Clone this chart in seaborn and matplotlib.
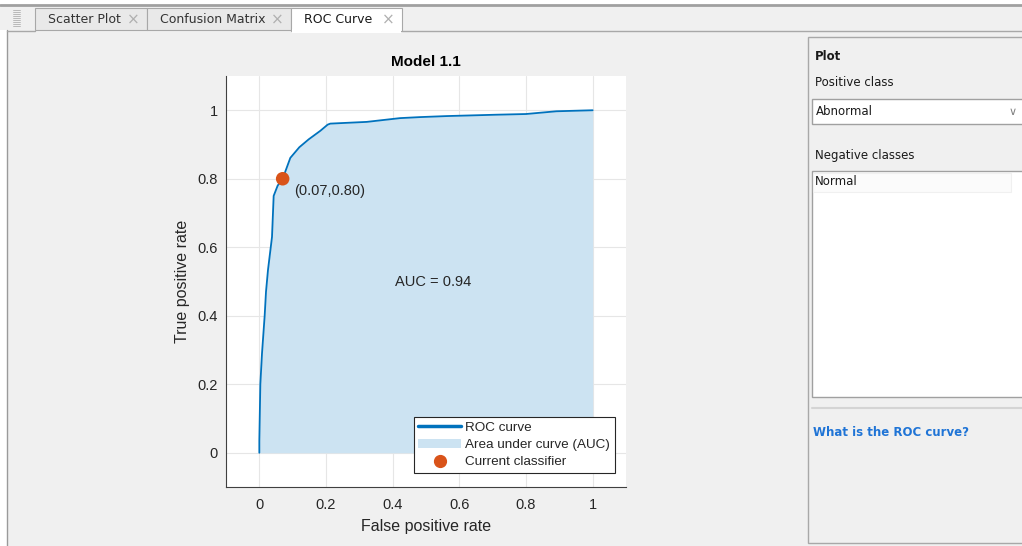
import numpy as np
import pandas as pd
import matplotlib
matplotlib.use("Agg")
import matplotlib.pyplot as plt
from matplotlib.patches import Rectangle, Patch
from matplotlib.lines import Line2D
import seaborn as sns

# ---------------- data ----------------
fpr = [0.0, 0.0, 0.003, 0.008, 0.016, 0.02, 0.026, 0.033, 0.038, 0.043, 0.055, 0.07,
       0.093, 0.12, 0.148, 0.183, 0.205, 0.213, 0.322, 0.422, 0.482, 0.562, 0.712,
       0.80, 0.891, 1.0]
tpr = [0.0, 0.035, 0.2, 0.29, 0.40, 0.47, 0.534, 0.59, 0.63, 0.75, 0.78, 0.80,
       0.861, 0.892, 0.915, 0.94, 0.958, 0.961, 0.966, 0.977, 0.980, 0.983, 0.987,
       0.989, 0.997, 1.0]
current_fpr = [0.07]
current_tpr = [0.80]
auc_value = 0.94
title = "Model 1.1"
tick_values = [0, 0.2, 0.4, 0.6, 0.8, 1]
tick_labels = ["0", "0.2", "0.4", "0.6", "0.8", "1"]
tab_names = ["Scatter Plot", "Confusion Matrix", "ROC Curve"]
positive_class = "Abnormal"
negative_classes = ["Normal"]

roc = pd.DataFrame({"fpr": fpr, "tpr": tpr})
cur = pd.DataFrame({"fpr": current_fpr, "tpr": current_tpr})

# ---------------- style ----------------
sns.set_style("white")
plt.rcParams["font.family"] = ["Liberation Sans", "DejaVu Sans"]

W, H = 1022, 546
fig = plt.figure(figsize=(W / 100, H / 100), dpi=100)
fig.patch.set_facecolor("#f0f0f0")

def fx(x):
    return x / W

def fy(y):
    return 1 - y / H

def rect(x0, y0, x1, y1, fc, ec="none", lw=1, z=0):
    fig.patches.append(Rectangle((fx(x0), fy(y1)), fx(x1) - fx(x0), fy(y0) - fy(y1),
                                 transform=fig.transFigure, facecolor=fc, edgecolor=ec,
                                 linewidth=lw, zorder=z))

def hline(x0, x1, y, color, lw=1):
    fig.add_artist(Line2D([fx(x0), fx(x1)], [fy(y), fy(y)], transform=fig.transFigure,
                          color=color, lw=lw))

def vline(x, y0, y1, color, lw=1):
    fig.add_artist(Line2D([fx(x), fx(x)], [fy(y0), fy(y1)], transform=fig.transFigure,
                          color=color, lw=lw))

def text(x, y, s, **kw):
    fig.text(fx(x), fy(y), s, transform=fig.transFigure, **kw)

UI = ["DejaVu Sans"]

# ---------------- UI chrome ----------------
rect(0, 0, W, 5, "#ffffff")
hline(0, W, 5, "#a0a0a0", lw=2)
rect(0, 30, 7, H, "#ffffff")
vline(7, 30, H, "#9a9a9a", lw=1)
hline(402, W, 31, "#a8a8a8", lw=1)
hline(7, 35, 31, "#a8a8a8", lw=1)
for gy in range(10, 28, 2):
    hline(13, 20, gy, "#b0b0b0", lw=0.6)
tabs = [(35, 147), (147, 291), (291, 402)]
for i, ((x0, x1), name) in enumerate(zip(tabs, tab_names)):
    selected = i == 2
    rect(x0, 8, x1, 31 if selected else 30, "#ffffff" if selected else "#e9e9e9",
         ec="#a8a8a8", lw=0.8, z=1)
    text(x0 + 13, 19.5, name, fontsize=9, color="#1a1a1a" if selected else "#333333",
         va="center", ha="left", family=UI, zorder=3)
    text(x1 - 14, 19.5, "\u00d7", fontsize=11, color="#b0b0b0", va="center",
         ha="center", family=UI, zorder=3)
rect(292, 29, 401, 33, "#ffffff", z=2)

# right panel
rect(808, 37, W + 2, 543, "#f0f0f0", ec="#a8a8a8", lw=1)
text(815, 57, "Plot", fontsize=8.5, fontweight="bold", va="center", color="#1a1a1a",
     family=UI)
text(815, 82, "Positive class", fontsize=8.5, va="center", color="#1a1a1a", family=UI)
rect(812, 99, W + 2, 124, "#ffffff", ec="#a0a0a0", lw=1)
text(816, 112, positive_class, fontsize=8.5, va="center", color="#1a1a1a", family=UI)
text(1013, 112, "\u2228", fontsize=8, va="center", ha="center", color="#808080",
     family=UI)
text(815, 155, "Negative classes", fontsize=8.5, va="center", color="#1a1a1a", family=UI)
rect(812, 171, W + 2, 397, "#ffffff", ec="#a0a0a0", lw=1)
rect(813, 173, 1011, 192, "#fbfbfb", ec="#f0f0f0", lw=0.8)
for k, nc in enumerate(negative_classes):
    text(815, 182 + 18 * k, nc, fontsize=8.5, va="center", color="#1a1a1a", family=UI)
hline(812, W, 408, "#d4d4d4", lw=1.5)
text(813, 433, "What is the ROC curve?", fontsize=8.5, fontweight="bold", va="center",
     color="#1f74d6", family=UI)

# ---------------- axes ----------------
ax = fig.add_axes([fx(226), fy(487), (626 - 226) / W, (487 - 76) / H])
ax.set_facecolor("#ffffff")
blue = "#0072BD"
orange = "#D95319"
fillc = "#cce3f2"

ax.fill_between(roc["fpr"], roc["tpr"], 0, color=fillc, linewidth=0, zorder=1)
sns.lineplot(data=roc, x="fpr", y="tpr", sort=False, estimator=None, color=blue,
             linewidth=1.3, ax=ax, zorder=3)
sns.scatterplot(data=cur, x="fpr", y="tpr", color=orange, s=95, edgecolor="none",
                ax=ax, zorder=4)

ax.set_xlim(-0.1, 1.1)
ax.set_ylim(-0.1, 1.1)
ax.set_xticks(tick_values)
ax.set_xticklabels(tick_labels)
ax.set_yticks(tick_values)
ax.set_yticklabels(tick_labels)
ax.grid(True, color="#e6e6e6", linewidth=0.8, zorder=0)
ax.set_axisbelow(True)
for s in ["top", "right"]:
    ax.spines[s].set_visible(False)
for s in ["left", "bottom"]:
    ax.spines[s].set_color("#404040")
    ax.spines[s].set_linewidth(0.8)
ax.tick_params(axis="both", direction="in", length=4, width=0.8, colors="#404040",
               labelsize=10.5, labelcolor="#262626", pad=6)
ax.tick_params(axis="x", pad=8)
ax.set_xlabel("False positive rate", fontsize=11.5, color="#262626", labelpad=5)
ax.set_ylabel("True positive rate", fontsize=11.5, color="#262626", labelpad=5)
ax.set_title(title, fontsize=11, fontweight="bold", color="#000000", pad=7)

ax.text(current_fpr[0] + 0.035, current_tpr[0] - 0.035,
        "({:.2f},{:.2f})".format(current_fpr[0], current_tpr[0]),
        fontsize=10.5, color="#262626", va="center", ha="left")
ax.text(0.52, 0.5, "AUC = {:.2f}".format(auc_value), fontsize=10.5, color="#262626",
        va="center", ha="center")

handles = [Line2D([0], [0], color=blue, lw=2.5),
           Patch(facecolor=fillc, edgecolor="none"),
           Line2D([0], [0], color=orange, marker="o", linestyle="none", markersize=8.5)]
labels = ["ROC curve", "Area under curve (AUC)", "Current classifier"]
leg = ax.legend(handles, labels, loc="lower right",
                bbox_to_anchor=((615 - 226) / 400, (487 - 473) / 411),
                borderaxespad=0, fontsize=9.7, frameon=True, fancybox=False,
                edgecolor="#262626", framealpha=1, handlelength=3.2,
                handletextpad=0.3, borderpad=0.35, labelspacing=0.35)
leg.get_frame().set_linewidth(0.8)

fig.savefig("out.png", dpi=100, facecolor=fig.get_facecolor())
